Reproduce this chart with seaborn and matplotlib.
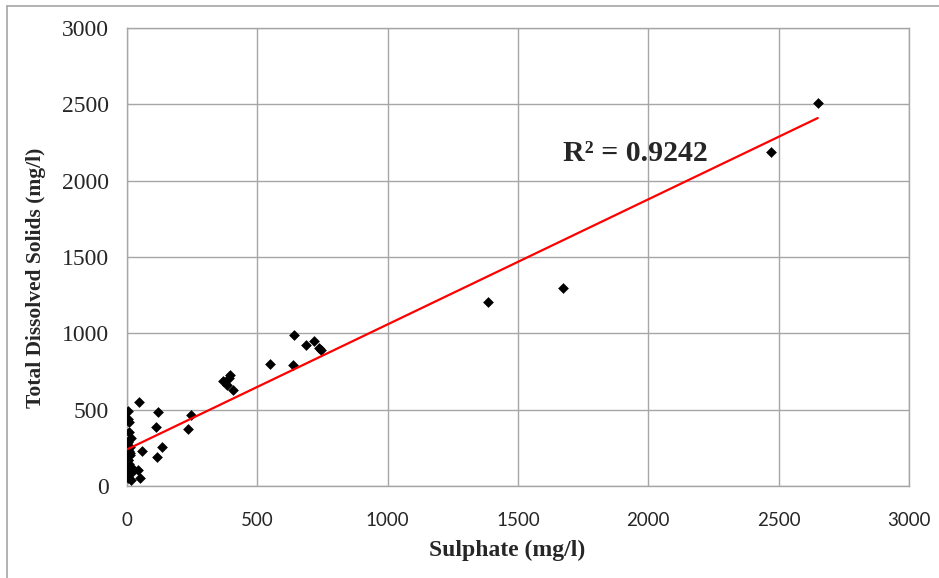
import matplotlib
matplotlib.use("Agg")
import matplotlib.pyplot as plt
import seaborn as sns
import pandas as pd
from matplotlib.lines import Line2D

sulphate = [2, 8, 3, 8, 15, 3, 11, 11, 5, 5, 15, 4, 15, 4, 15, 4, 12, 8, 10, 6,
            47, 44, 50, 59, 110, 118, 114, 133, 234, 247,
            370, 383, 390, 395, 405,
            548, 636, 642, 688, 716, 735, 744,
            1384, 1673, 2472, 2650]
tds = [488, 418, 440, 355, 313, 291, 258, 215, 171, 171, 127, 127, 83, 61, 39, 50, 100, 145, 200, 230,
       552, 105, 55, 230, 386, 482, 189, 258, 374, 468,
       685, 664, 710, 729, 632,
       797, 790, 990, 924, 953, 905, 893,
       1207, 1294, 2186, 2510]
x_ticks = [0, 500, 1000, 1500, 2000, 2500, 3000]
y_ticks = [0, 500, 1000, 1500, 2000, 2500, 3000]
r2_label = "R² = 0.9242"

df = pd.DataFrame({"Sulphate": sulphate, "TDS": tds})

sns.set_style("white")
fig = plt.figure(figsize=(9.39, 5.78), dpi=100)
ax = fig.add_axes([127 / 939, 1 - 486 / 578, (909 - 127) / 939, (486 - 28) / 578])

sns.scatterplot(data=df, x="Sulphate", y="TDS", marker="D", s=30, color="black",
                edgecolor="black", linewidth=0, ax=ax, zorder=3)
sns.regplot(data=df, x="Sulphate", y="TDS", scatter=False, ci=None, truncate=True,
            line_kws={"color": "#ff0000", "linewidth": 1.6, "zorder": 4}, ax=ax)

ax.set_xlim(0, 3000)
ax.set_ylim(0, 3000)
ax.set_xticks(x_ticks)
ax.set_yticks(y_ticks)
ax.grid(True, color="#a6a6a6", linewidth=1)
ax.set_axisbelow(True)
for side in ["top", "right", "left", "bottom"]:
    ax.spines[side].set_color("#a6a6a6")
    ax.spines[side].set_linewidth(1)
ax.tick_params(axis="both", direction="out", length=7, color="#a6a6a6", width=1)
ax.tick_params(axis="y", pad=6)
ax.tick_params(axis="x", pad=12)

for lab in ax.get_yticklabels():
    lab.set_family(["Liberation Serif", "DejaVu Serif"])
    lab.set_fontsize(17)
for lab in ax.get_xticklabels():
    lab.set_family(["Lato", "DejaVu Sans"])
    lab.set_fontsize(13.5)

ax.set_xlabel("Sulphate (mg/l)", family=["Liberation Serif", "DejaVu Serif"],
              fontweight="bold", fontsize=17)
ax.set_ylabel("Total Dissolved Solids (mg/l)", family=["Liberation Serif", "DejaVu Serif"],
              fontweight="bold", fontsize=15.5)
ax.xaxis.set_label_coords(0.486, -0.118)
ax.yaxis.set_label_coords(-0.104, 0.454)

ax.text(1673, 2175, r2_label, ha="left", va="center",
        family=["Liberation Serif", "DejaVu Serif"], fontweight="bold", fontsize=21.5)

# outer frame lines (top and left)
fig.add_artist(Line2D([7 / 939, 1], [1 - 6 / 578, 1 - 6 / 578], transform=fig.transFigure,
                      color="#a6a6a6", linewidth=1.2))
fig.add_artist(Line2D([7 / 939, 7 / 939], [0, 1 - 6 / 578], transform=fig.transFigure,
                      color="#a6a6a6", linewidth=1.2))

fig.savefig("out.png", dpi=100)
